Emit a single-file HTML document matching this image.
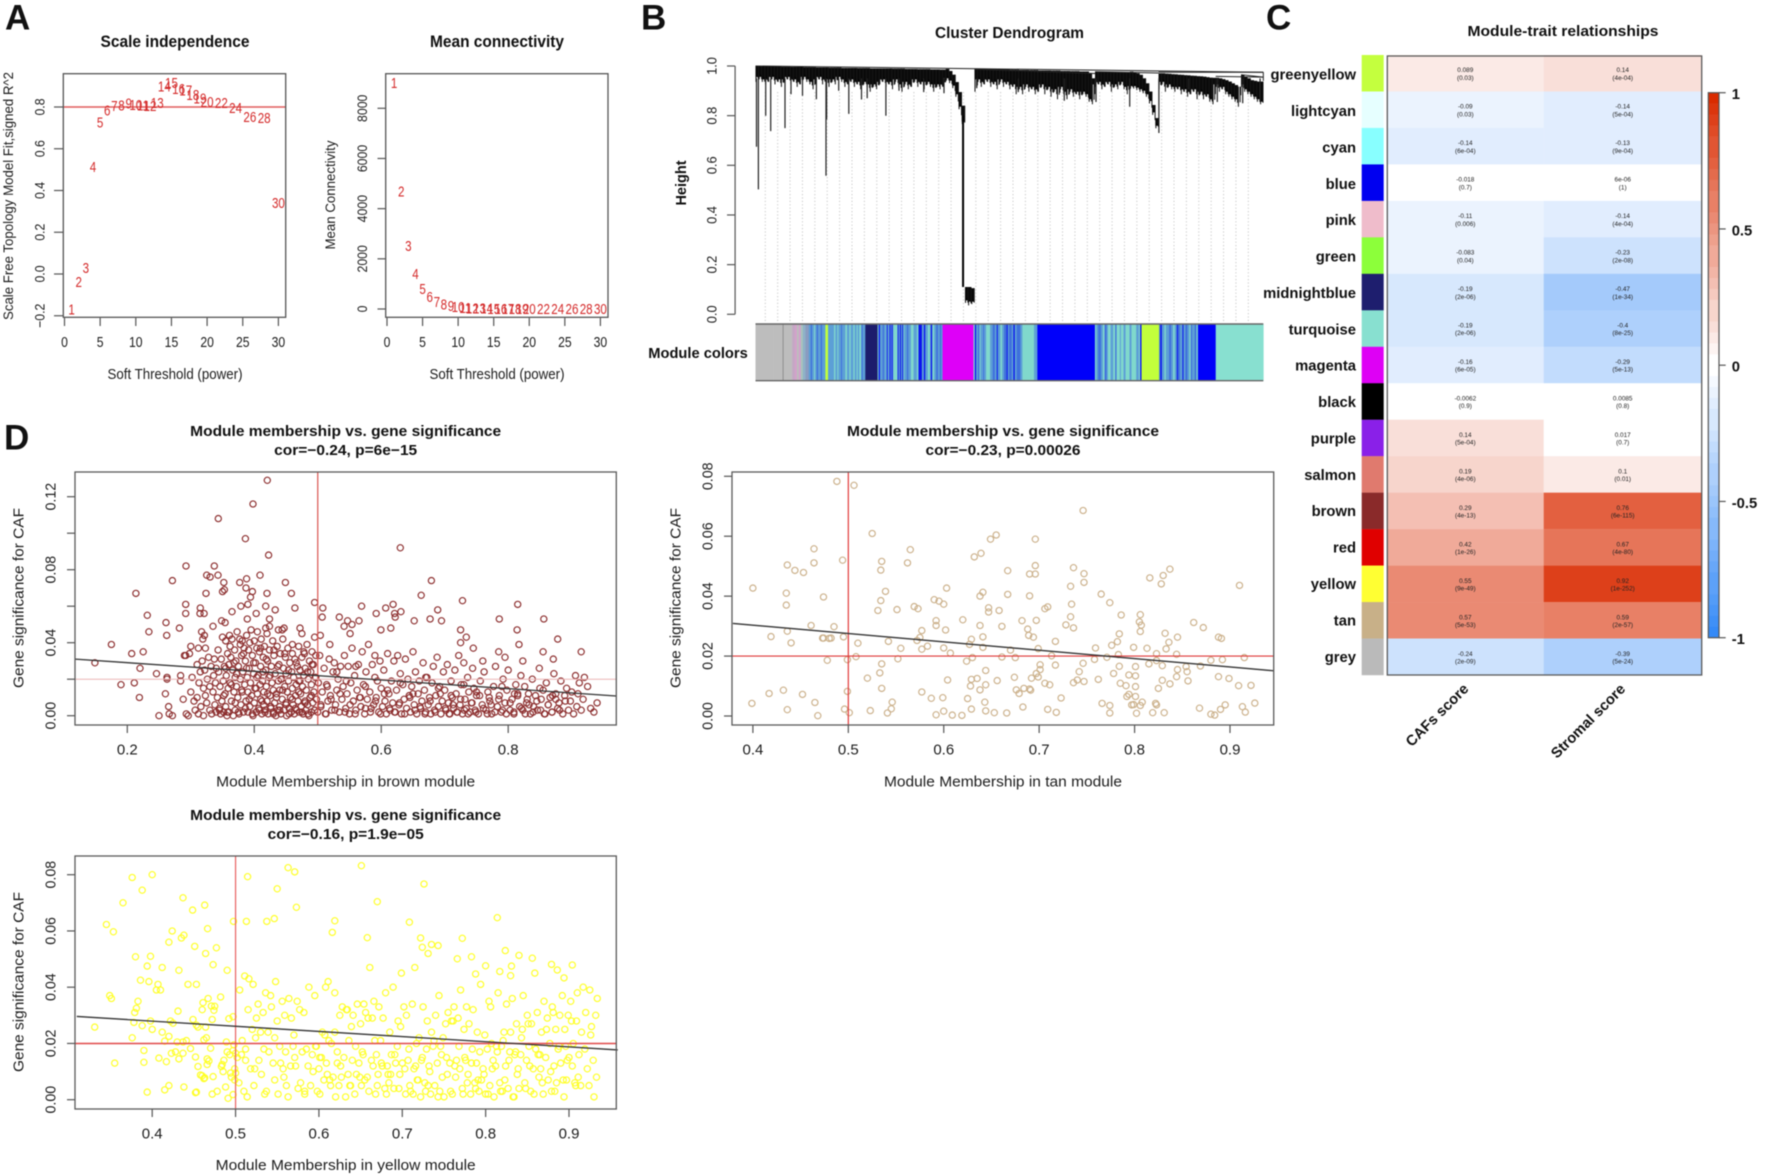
<!DOCTYPE html>
<html lang="en">
<head>
<meta charset="utf-8">
<title>WGCNA module analysis figure</title>
<style>
html,body{margin:0;padding:0;background:#fff;width:1772px;height:1176px;overflow:hidden}
svg{display:block;filter:blur(.4px)}
text{font-family:"Liberation Sans",Arial,sans-serif;fill:#1c1c1c}
.b{font-weight:bold;fill:#111}
</style>
</head>
<body>
<svg id="fig" xmlns="http://www.w3.org/2000/svg" width="1772" height="1176" viewBox="0 0 1772 1176">
<rect x="0" y="0" width="1772" height="1176" fill="#fff"/>

<text class="b" x="5" y="29.5" font-size="35">A</text>
<text class="b" x="641" y="29.5" font-size="35">B</text>
<text class="b" x="1266" y="29.5" font-size="35">C</text>
<text class="b" x="4" y="449.5" font-size="35">D</text>

<text class="b" x="175" y="47" font-size="16.5" text-anchor="middle" textLength="149" lengthAdjust="spacingAndGlyphs">Scale independence</text>
<text x="175" y="379" font-size="14.5" text-anchor="middle" textLength="135" lengthAdjust="spacingAndGlyphs">Soft Threshold (power)</text>
<text transform="translate(8,196) rotate(-90)" y="5" font-size="14" text-anchor="middle" textLength="248" lengthAdjust="spacingAndGlyphs">Scale Free Topology Model Fit,signed R^2</text>

<text class="b" x="497" y="47" font-size="16.5" text-anchor="middle" textLength="134" lengthAdjust="spacingAndGlyphs">Mean connectivity</text>
<text x="497" y="379" font-size="14.5" text-anchor="middle" textLength="135" lengthAdjust="spacingAndGlyphs">Soft Threshold (power)</text>
<text transform="translate(330,195) rotate(-90)" y="5" font-size="14" text-anchor="middle" textLength="109" lengthAdjust="spacingAndGlyphs">Mean Connectivity</text>

<text class="b" x="1009.5" y="38" font-size="15.5" text-anchor="middle" textLength="149" lengthAdjust="spacingAndGlyphs">Cluster Dendrogram</text>
<text class="b" transform="translate(681,183) rotate(-90)" y="5" font-size="14.5" text-anchor="middle">Height</text>
<text class="b" x="698" y="358" font-size="15" text-anchor="middle" textLength="99.5" lengthAdjust="spacingAndGlyphs">Module colors</text>

<text class="b" x="1563" y="36" font-size="14.5" text-anchor="middle" textLength="191" lengthAdjust="spacingAndGlyphs">Module-trait relationships</text>
<text class="b" transform="translate(1437,715) rotate(-45)" y="5" font-size="14.7" text-anchor="middle">CAFs score</text>
<text class="b" transform="translate(1588,721) rotate(-45)" y="5" font-size="14.7" text-anchor="middle">Stromal score</text>

<text class="b" x="345.7" y="436" font-size="15" text-anchor="middle" textLength="311" lengthAdjust="spacingAndGlyphs">Module membership vs. gene significance</text>
<text class="b" x="345.7" y="455" font-size="15" text-anchor="middle" textLength="143" lengthAdjust="spacingAndGlyphs">cor=−0.24, p=6e−15</text>
<text x="345.7" y="786.5" font-size="15" text-anchor="middle" textLength="259" lengthAdjust="spacingAndGlyphs">Module Membership in brown module</text>
<text transform="translate(18.4,598) rotate(-90)" y="5" font-size="15" text-anchor="middle" textLength="180" lengthAdjust="spacingAndGlyphs">Gene significance for CAF</text>

<text class="b" x="1003" y="436" font-size="15" text-anchor="middle" textLength="312" lengthAdjust="spacingAndGlyphs">Module membership vs. gene significance</text>
<text class="b" x="1003" y="455" font-size="15" text-anchor="middle" textLength="155" lengthAdjust="spacingAndGlyphs">cor=−0.23, p=0.00026</text>
<text x="1003" y="786.5" font-size="15" text-anchor="middle" textLength="238" lengthAdjust="spacingAndGlyphs">Module Membership in tan module</text>
<text transform="translate(675.3,598) rotate(-90)" y="5" font-size="15" text-anchor="middle" textLength="180" lengthAdjust="spacingAndGlyphs">Gene significance for CAF</text>

<text class="b" x="345.7" y="820" font-size="15" text-anchor="middle" textLength="311" lengthAdjust="spacingAndGlyphs">Module membership vs. gene significance</text>
<text class="b" x="345.7" y="839" font-size="15" text-anchor="middle" textLength="156" lengthAdjust="spacingAndGlyphs">cor=−0.16, p=1.9e−05</text>
<text x="345.7" y="1170" font-size="15" text-anchor="middle" textLength="260" lengthAdjust="spacingAndGlyphs">Module Membership in yellow module</text>
<text transform="translate(18.4,982) rotate(-90)" y="5" font-size="15" text-anchor="middle" textLength="180" lengthAdjust="spacingAndGlyphs">Gene significance for CAF</text>
</svg>

<script>
/* ---------- Panel A data ---------- */
const powers=[1,2,3,4,5,6,7,8,9,10,11,12,13,14,15,16,17,18,19,20,22,24,26,28,30];
const scaleFit=[-.17,-.037,.03,.514,.727,.784,.805,.808,.818,.811,.808,.805,.821,.90,.917,.887,.879,.858,.842,.824,.821,.797,.754,.748,.342];
const meanK=[9023,4691,2525,1395,811,492,292,186,133,80,53,35,28,22,18,15,12,10,8,7,5,4,3,2,2];
const powerTicks=[0,5,10,15,20,25,30];
const scaleTicks=[-.2,0,.2,.4,.6,.8];
const scaleTickLabels=['−0.2','0.0','0.2','0.4','0.6','0.8'];
const scaleCutoff=[.8];
const kTicks=[0,2000,4000,6000,8000];

/* ---------- Panel B data ---------- */
const heightTicks=[0,.2,.4,.6,.8,1];
const heightTickLabels=['0.0','0.2','0.4','0.6','0.8','1.0'];
const dendroTop=[1,1,.999,.999,.999,.998,.998,.998,.997,.997,.997,.996,.996,.996,.996,.995,.995,.995,.995,.994,.994,.994,.994,.993,.993,.993,.993,.992,.992,.992,.992,.992,.991,.991,.991,.991,.99,.99,
.99,.99,.99,.99,.99,.989,.989,.989,.989,.988,.988,.988,.988,.987,.987,.987,.987,.986,.986,.986,.985,.985,
.988,.98,.965,.935,.895,.84,.11,.11,.105,
.988,.988,.988,.987,.987,.987,.987,.986,.986,.986,.986,.985,.985,.985,
.984,.984,.984,.983,.983,.983,.982,.982,.982,.982,.981,.981,.981,.98,.98,.98,.979,.979,.979,.978,.978,.978,.97,.95,
.977,.977,.977,.977,.976,.976,.976,.976,.975,.975,.975,
.977,.974,.97,.964,.95,.93,.897,.843,.79,
.97,.97,.969,.968,.967,.966,.965,.964,.963,.962,.961,.96,.959,.958,.957,.955,.953,.952,
.952,.95,.947,.943,.937,.93,.923,.917,
.964,.957,.95,.943,.94,.937,.937];
const dendroTip=[.95,.96,.95,.94,.95,.96,.94,.95,.93,.95,.96,.94,.95,.93,.94,.96,.95,.94,.92,.95,.96,.94,.95,.93,.95,.94,.96,.95,.93,.94,.95,.93,.94,.92,.94,.93,.91,.93,
.92,.94,.95,.93,.94,.92,.95,.93,.91,.94,.92,.93,.95,.93,.94,.92,.94,.93,.91,.93,.92,.93,
.955,.945,.925,.89,.84,.78,.06,.05,.055,
.91,.95,.93,.94,.95,.93,.94,.92,.95,.93,.94,.92,.93,.90,
.92,.90,.93,.91,.92,.90,.91,.93,.90,.92,.89,.91,.88,.92,.90,.88,.91,.89,.90,.88,.90,.89,.87,.86,
.93,.94,.92,.93,.94,.91,.93,.92,.94,.92,.90,
.923,.923,.917,.91,.904,.89,.863,.817,.763,
.92,.94,.91,.93,.92,.91,.92,.90,.91,.89,.90,.91,.88,.90,.88,.89,.87,.86,
.93,.91,.92,.90,.89,.88,.87,.85,
.93,.91,.90,.89,.88,.87,.86];
const spikeLeaf=[.3,.9,.9,3.2,4.8,9.3,11.2,14.8,19.2,22.4,22.2,26.2,29.4,33.4,35.2,41.1,45.2,53,59.4,69.7,82.8,97.3,107.3,117.9,127.1,136.5,145.5,153.5,159];
const spikeHeight=[.675,.503,.78,.80,.738,.75,.886,.88,.866,.785,.558,.90,.807,.865,.87,.80,.90,.895,.89,.91,.895,.86,.855,.836,.73,.905,.855,.85,.855];
const descentLeaf=[65.4];
const descentFrom=[.80];
const descentTo=[.11];
const mergeFromLeaf=[0,127,145,153,69,107];
const mergeToLeaf=[160,160,160,160,107,127];
const mergeFromH=[1,.975,.958,.965,.987,.977];
const mergeToH=[.975,.975,.955,.955,.97,.972];
const barRunKeys=[
'g','g','d','g','p','q','g','q','r','o','k',
's','m','s','t','s','m','s','m','s',
'y',
's','t','s','t','s','m','s','t','s','t','s','t','s','t','s','t','m','s',
'N',
't','b','s','m','s','t','b','s','b','s','b','s','t','b','s','b','s','b','t','s','m','s','t','s','t','s',
'b','s','b','s','t','s','b','t','s','m','s','m','s',
'M',
't','b','s','m','t','s','m','s','t','s','m','s','b','s','t','s','m','b','s','m','s','b','s','m',
'm','s','t','s',
'B',
't','s','m','s','t','m','s','t','s','t','m','t','s','t','s','t','s','t','s','t','b',
'y',
'm','b','s','t','s','m','s','t','s','b','m','s','b','s','m','s','t','m','s','m','t','s',
'B',
'T'];
const barRunLeaves=[
53,29,2,26,8,6,6,6,6,8,10,
6,4,6,3,5,4,8,4,10,
8,
18,4,6,3,8,3,10,5,7,4,8,4,6,3,5,6,4,8,
37,
3,4,8,4,6,2,3,6,3,3,3,3,12,3,4,3,4,3,3,8,4,8,8,10,4,1,
10,6,4,8,6,3,4,6,6,5,6,4,4,
93,
4,4,6,4,3,8,3,6,12,8,6,6,3,8,5,6,8,3,4,8,5,4,6,5,
6,6,35,10,
173,
4,6,8,6,5,6,4,8,8,6,4,10,3,8,6,12,6,14,8,4,4,
53,
4,4,8,4,10,6,6,5,6,3,6,8,3,6,6,6,4,4,8,5,3,2,
53,
143];
const barKeyColors={g:'#bdbdbd',d:'#7a7a7a',p:'#c4a8c4',q:'#d4a0cc',r:'#a8c4bc',o:'#8fb2c8',k:'#8a9cc0',s:'#5c9fd6',m:'#3f70dc',t:'#80d8cc',b:'#0a10f0',y:'#c2ff3c',N:'#1c1c6c',M:'#de00f8',B:'#0000fa',T:'#88e0d0'};

/* ---------- Panel C data ---------- */
const moduleNames=['greenyellow','lightcyan','cyan','blue','pink','green','midnightblue','turquoise','magenta','black','purple','salmon','brown','red','yellow','tan','grey'];
const moduleSwatches=['#c4ff3e','#e6ffff','#88ffff','#0000f0','#efbccb','#8cff3a','#1e1e6e','#88e0d0','#de00f5','#000000','#8a20e8','#e07a6e','#8a2a2a','#e00000','#ffff33','#c8b088','#bababa'];
const cafCor=[.089,-.09,-.14,-.018,-.11,-.083,-.19,-.19,-.16,-.0062,.14,.19,.29,.42,.55,.57,-.24];
const cafCorLabels=['0.089','-0.09','-0.14','-0.018','-0.11','-0.083','-0.19','-0.19','-0.16','-0.0062','0.14','0.19','0.29','0.42','0.55','0.57','-0.24'];
const cafP=['(0.03)','(0.03)','(6e-04)','(0.7)','(0.006)','(0.04)','(2e-06)','(2e-06)','(6e-05)','(0.9)','(5e-04)','(4e-06)','(4e-13)','(1e-26)','(9e-49)','(5e-53)','(2e-09)'];
const stromalCor=[.14,-.14,-.13,.000006,-.14,-.23,-.47,-.4,-.29,.0085,.017,.1,.76,.67,.92,.59,-.39];
const stromalCorLabels=['0.14','-0.14','-0.13','6e-06','-0.14','-0.23','-0.47','-0.4','-0.29','0.0085','0.017','0.1','0.76','0.67','0.92','0.59','-0.39'];
const stromalP=['(4e-04)','(5e-04)','(9e-04)','(1)','(4e-04)','(2e-08)','(1e-34)','(8e-25)','(5e-13)','(0.8)','(0.7)','(0.01)','(6e-115)','(4e-80)','(1e-252)','(2e-57)','(5e-24)'];
const colorbarTicks=[1,.5,0,-.5,-1];
const colorbarTickLabels=['1','0.5','0','-0.5','-1'];

/* ---------- Panel D: brown ---------- */
const brownXTicks=[.2,.4,.6,.8];
const brownYTicks=[0,.02,.04,.06,.08,.1,.12];
const brownXLim=[.118,.97];
const brownTrend=[.031,.0108];
const brownX=[.149,.175,.19,.207,.211,.2135,.22,.219,.225,.2315,.234,.246,.25,.261,.262,.2625,.2625,.26,.265,.266,.271,.271,.282,.284,.284,.292,.292,.2925,.288,.292,.298,.293,.296,
.4206,.398,.3434,.386,.4225,.63,.337,.325,.3305,.3428,.352,.377,.388,.409,.449,.679,.324,.35,.353,.387,.397,.394,.42,.4585,.495,.508,.507,.464,.433,.418,.403,.39,.379,.365,.315,.3145,.321,.569,.607,.6187,.592,.621,.631,.622,.534,.547,.565,.554,.5415,.5995,.615,.551,.652,.663,.689,.677,.695,.728,.725,.734,.725,.745,.815,.786,.856,.814,.817,.878,.915,.855,.785,.795,.871,.823,.76,.3486,.354,.389,.335,.424,.418,.424,.472,.444,.447,.438,.475,.504,.495,.519,.317,.3215,.319,.3,.312,.323,.29,
.30,.302,.305,.307,.31,.31,.312,.313,.315,.316,.318,.32,.32,.322,.323,.325,.326,.328,.33,.33,.332,.333,.335,.336,.337,.338,.339,.34,.34,.342,
.343,.344,.345,.346,.347,.348,.349,.35,.351,.352,.353,.354,.355,.355,.356,.357,.358,.359,.36,.36,.361,.362,.363,.364,.365,.366,.367,.368,.369,.37,.37,.371,.372,.373,.374,.375,.376,.377,.378,.379,.38,.38,.381,.382,.383,.384,.385,
.386,.387,.388,.389,.39,.39,.391,.392,.393,.394,.395,.396,.397,.398,.399,.40,.40,.401,.402,.403,.404,.405,.405,.406,.407,.408,.409,.41,.41,.411,.412,.413,.414,.415,.415,.416,.417,.418,.419,.42,.42,.421,.422,.423,.424,.425,.426,.427,.428,.429,.43,.43,.431,.432,.433,.434,.435,.436,.437,.438,
.439,.44,.44,.441,.442,.443,.444,.445,.446,.447,.448,.449,.45,.45,.451,.452,.453,.454,.455,.456,.457,.458,.459,.46,.46,.461,.462,.463,.464,.465,.466,.467,.468,.469,.47,.47,.471,.472,.473,.474,.475,.476,.477,.478,.479,.48,.48,.481,.482,.483,.484,.485,.486,.487,.488,.489,.49,.49,.491,.492,.493,.494,.495,.496,.497,.498,
.50,.501,.503,.505,.507,.51,.512,.514,.516,.518,.52,.522,.524,.526,.528,.53,.532,.534,.536,.538,.54,.542,.544,.546,.548,.55,.552,.554,.556,.558,.56,.562,.564,.566,.568,.57,.572,.574,.576,.578,.58,.582,.584,.586,.588,.59,.592,.594,.596,.598,
.60,.602,.604,.606,.608,.61,.612,.614,.616,.618,.62,.622,.624,.626,.628,.63,.632,.634,.636,.638,.64,.642,.644,.646,.648,.65,.652,.654,.656,.658,.66,.662,.664,.666,.668,.67,.672,.674,.676,.678,.68,.682,.684,.686,.688,.69,.692,.694,.696,.698,
.70,.702,.704,.706,.708,.71,.712,.714,.716,.718,.72,.722,.724,.726,.728,.73,.732,.734,.736,.738,.74,.742,.744,.746,.748,.75,.753,.756,.759,.762,.765,.768,.771,.774,.777,.78,.783,.786,.789,.792,.795,.798,.80,.803,.806,.809,.812,.815,.818,.82,
.823,.826,.829,.832,.835,.838,.84,.843,.846,.849,.852,.855,.858,.86,.863,.866,.869,.872,.875,.878,.88,.883,.886,.889,.892,.895,.898,.90,.903,.906,.908,.91,.912,.915,.918,.92,.925,.93,.935,.94,
.345,.352,.358,.364,.37,.375,.381,.386,.392,.397,.403,.408,.412,.417,.421,.426,.43,.435,.44,.445,.45,.455,.46,.465,.47,.475,.48,.485,.49,.495,.505,.513,.521,.527,.535,.543,.551,.559,.567,.575,.583,.591,.599,.605,.613,.621,.629,.637,.645,.653,.661,.669,.677,.685,.693,.701,.707,.713,.719,.725,.731,.737,.743,.749,.755,.761,.767,.773,.779,.785,.791,.797,.803,.809,.815,.821,.827,.833,.839,.845,.851,.857,.863,.869,.875,.881,
.355,.362,.368,.372,.378,.383,.388,.393,.399,.404,.41,.414,.419,.425,.431,.437,.442,.448,.454,.46,.466,.472,.478,.484,.491,.497,.515,.53,.545,.56,.575,.59,.61,.63,.65,.67,.69,.71,.73,.75,.77,.79,.81,.83,.85,.87,.89];
const brownY=[.029,.039,.017,.034,.018,.067,.026,.010,.035,.055,.046,.023,0,.051,.044,.021,.020,.012,.005,.001,0,.074,.048,.022,.019,.061,.056,.082,.009,.033,.034,.001,0,
.129,.116,.108,.097,.088,.092,.082,.077,.076,.077,.073,.073,.075,.077,.073,.074,.067,.068,.069,.070,.068,.065,.067,.067,.062,.059,.054,.059,.058,.060,.056,.061,.060,.057,.059,.056,.056,.060,.059,.061,.056,.056,.057,.054,.054,.052,.052,.050,.049,.047,.048,.045,.052,.066,.058,.053,.052,.063,.047,.043,.040,.037,.061,.053,.053,.047,.039,.042,.035,.035,.035,.032,.031,.030,.030,.052,.051,.053,.049,.053,.048,.049,.048,.047,.048,.047,.045,.044,.043,.039,.046,.044,.042,.038,.037,.037,.033,
.013,.021,.008,.003,.028,.010,.001,.018,.024,.005,.030,.015,.0,.025,.011,.007,.020,.032,.003,.016,.027,.001,.013,.022,.031,.006,.018,.002,.026,.010,
.036,.024,.003,.016,.001,.031,.008,.043,.019,.002,.027,.012,.041,.005,.022,.0,.034,.015,.028,.002,.044,.018,.032,.008,.042,.025,.0,.013,.036,.021,.003,.030,.016,.046,.010,.027,.001,.042,.020,.006,.033,.014,.041,.024,.002,.037,.017,
.030,.008,.044,.021,.002,.013,.036,.026,.005,.018,.047,.011,.033,.0,.023,.041,.007,.015,.029,.002,.037,.012,.046,.022,.004,.035,.017,.009,.027,.042,.001,.019,.032,.006,.013,.038,.003,.025,.016,.045,.008,.030,.001,.021,.036,.011,.004,.027,.018,.041,.002,.014,.033,.007,.023,.0,.012,.038,.003,.019,
.028,.005,.014,.034,.001,.020,.009,.042,.026,.003,.016,.032,.007,.023,.0,.013,.037,.019,.004,.029,.010,.002,.024,.034,.015,.006,.021,.001,.031,.011,.017,.003,.027,.008,.038,.019,.002,.025,.012,.005,.032,.016,.001,.022,.034,.008,.026,.003,.014,.039,.006,.020,.0,.030,.010,.024,.002,.017,.035,.007,.028,.013,.003,.021,.033,.009,
.002,.018,.033,.005,.013,.026,.001,.017,.008,.031,.011,.003,.024,.029,.006,.014,.020,.002,.027,.009,.016,.033,.004,.012,.027,.001,.018,.037,.008,.022,.003,.014,.028,.010,.005,.035,.017,.001,.024,.009,.039,.013,.004,.028,.006,.033,.010,.019,.002,.030,
.015,.005,.025,.008,.001,.034,.012,.003,.019,.007,.030,.002,.014,.033,.006,.023,.001,.017,.009,.031,.004,.020,.011,.002,.016,.035,.006,.024,.001,.012,.019,.004,.008,.029,.014,.002,.021,.006,.010,.001,.018,.027,.003,.011,.032,.005,.016,.001,.008,.024,
.014,.003,.028,.007,.001,.019,.010,.004,.025,.012,.002,.033,.006,.017,.001,.029,.009,.004,.021,.013,.002,.007,.026,.015,.003,.011,.001,.019,.006,.024,.003,.013,.008,.001,.016,.027,.005,.011,.002,.020,.007,.014,.025,.003,.009,.001,.017,.012,.005,.022,
.003,.016,.007,.012,.001,.020,.005,.011,.003,.026,.009,.014,.001,.018,.006,.010,.002,.023,.012,.004,.007,.019,.001,.011,.015,.003,.008,.013,.001,.022,.005,.012,.018,.003,.009,.021,.016,.004,.002,.007,
.004,.011,.002,.017,.007,.002,.013,.004,.009,.001,.015,.003,.008,.002,.012,.005,.001,.010,.003,.014,.006,.001,.009,.004,.013,.002,.007,.001,.011,.003,.006,.001,.009,.003,.012,.002,.006,.001,.010,.004,.002,.008,.001,.012,.004,.002,.007,.001,.010,.003,.005,.001,.008,.002,.012,.004,.001,.006,.002,.009,.003,.001,.007,.002,.011,.004,.001,.006,.002,.009,.003,.001,.007,.002,.011,.004,.001,.006,.002,.008,.003,.001,.006,.002,.009,.003,
.026,.038,.029,.023,.039,.034,.026,.040,.029,.021,.037,.024,.031,.022,.036,.027,.020,.034,.025,.039,.029,.019,.035,.024,.028,.021,.016,.024,.019,.027,.016,.021,.014,.018,.012,.021,.015,.011,.017,.013,.010,.016,.012,.009,.015,.011,.008];

/* ---------- Panel D: tan ---------- */
const tanXTicks=[.4,.5,.6,.7,.8,.9];
const tanYTicks=[0,.02,.04,.06,.08];
const tanXLim=[.379,.9455];
const tanTrend=[.0309,.0151];
const tanCut=[.5,.02];
const tanX=[.4,.399,.417,.419,.432,.436,.436,.436,.435,.435,.44,.444,.453,.452,.461,.464,.464,.465,.468,.474,.473,.474,.478,.48,.482,.485,.488,.494,.495,.496,.499,.499,.501,.506,.508,.51,.52,.523,.525,.531,.534,.535,.535,.533,.535,.539,.534,.542,.541,.545,.546,.552,.551,.555,.562,.565,.569,.573,.572,.575,.577,.577,.583,.577,.587,.59,.595,.592,.592,.6,.603,.602,.6,.607,.604,.599,.6,.592,.609,.619,.62,.624,.625,.629,.627,.63,.629,.628,.629,.632,.635,.638,.641,.639,.638,.641,.641,.644,.644,.638,.643,.644,.653,.649,.655,.647,.647,.658,.661,.661,.656,.666,.667,.667,.67,.674,.675,.682,.676,.679,.684,.683,.69,.691,.69,.696,.696,.696,.69,.688,.689,.694,.697,.701,.699,.701,.699,.692,.706,.709,.697,.717,.713,.717,.706,.711,.709,.718,.723,.728,.733,.733,.736,.734,.736,.736,.74,.742,.746,.746,.747,.747,.747,.759,.758,.765,.774,.771,.762,.766,.774,.774,.778,.776,.782,.784,.786,.783,.784,.785,.791,.794,.801,.801,.799,.805,.806,.807,.806,.815,.813,.816,.823,.823,.829,.828,.83,.837,.832,.836,.833,.829,.825,.837,.792,.794,.797,.799,.801,.801,.806,.808,.802,.822,.823,.819,.831,.844,.845,.844,.845,.856,.855,.854,.862,.872,.869,.868,.88,.88,.884,.89,.895,.888,.891,.892,.888,.899,.909,.913,.916,.922,.926,.91,.915];
const tanY=[.0427,.0042,.0075,.0265,.0086,.0021,.0283,.0504,.041,.037,.0244,.0486,.0479,.0072,.0302,.0558,.0511,.0045,.0001,.0397,.026,.026,.0186,.0259,.026,.0298,.0783,.052,.0264,.0023,.0082,.0188,.0011,.077,.0198,.0243,.0126,.0018,.0609,.0352,.0487,.0516,.0174,.0144,.0092,.0416,.0385,.0249,.001,.0024,.0046,.0191,.0355,.0226,.0511,.0555,.0365,.0358,.0252,.0262,.0285,.0223,.0233,.008,.0059,.0388,.0383,.0318,.0302,.0373,.0427,.0287,.0227,.021,.012,.0061,.0016,.0004,.0003,.0002,.0321,.0183,.0058,.0256,.0239,.0195,.0122,.01,.0023,.0531,.0125,.04,.0413,.0543,.0302,.0264,.0229,.0152,.0104,.0087,.0046,.0017,.0011,.059,.0604,.0361,.0347,.0352,.0299,.0197,.0118,.001,.0485,.0406,.022,.0129,.0195,.0318,.0087,.0075,.0092,.003,.009,.0086,.0474,.0474,.059,.0502,.0401,.029,.0269,.0263,.0142,.0155,.0225,.0171,.013,.0126,.0358,.0364,.0319,.0249,.0201,.017,.0109,.0104,.0022,.0012,.006,.0304,.0433,.0331,.0495,.0373,.0294,.0111,.012,.0148,.0686,.0176,.0115,.0475,.0446,.0227,.0189,.0407,.0378,.0196,.0122,.0042,.0035,.001,.0142,.0236,.0248,.0274,.0337,.0205,.0166,.0109,.0101,.0137,.0165,.0134,.0229,.0314,.0338,.0303,.0282,.0174,.0226,.0461,.0208,.0185,.0168,.0441,.0469,.049,.0276,.0246,.0224,.0119,.0092,.0107,.0065,.0072,.0037,.0038,.0065,.0098,.0035,.0046,.0009,.0042,.0037,.0011,.0011,.0206,.0263,.0131,.0155,.0117,.0148,.0165,.0312,.0295,.0167,.0026,.0186,.0006,.0003,.0022,.0037,.0263,.0259,.0188,.0131,.0125,.0101,.0031,.0013,.0102,.0043,.0436,.0195];

/* ---------- Panel D: yellow ---------- */
const yellowXTicks=[.4,.5,.6,.7,.8,.9];
const yellowYTicks=[0,.02,.04,.06,.08];
const yellowXLim=[.3095,.9585];
const yellowTrend=[.0296,.0177];
const yellowCut=[.5,.02];
const yellowX=[.331,.345,.3535,.365,.376,.4,.388,.437,.4485,.463,.4665,.4975,.513,.5145,.5375,.5465,.55,.563,.571,.573,.651,.67,.726,.7085,.814,.619,.616,.658,.722,.772,.735,.743,.724,.731,.766,.783,.8236,.84,.856,.879,.904,.886,.894,.831,.83,.817,.8,.788,
.355,.349,.351,.38,.381,.379,.378,.376,.383,.388,.39,.39,.394,.396,.386,.398,.405,.41,.407,.412,.4,.398,.394,.408,.412,.415,.417,.42,.424,.42,.423,.422,.425,.42,.415,.431,.432,.435,.438,.43,.432,.428,.437,.441,.438,.437,.446,.443,.449,.453,.455,.451,.453,.452,.455,.452,.453,.458,.46,.462,.463,.461,.46,.462,.465,.464,.464,.467,.466,.466,.468,.472,.471,.473,.47,.474,.475,.477,.473,.472,.478,.484,.485,.483,.486,.482,.488,.489,.49,.492,.49,.491,.493,.494,.495,.497,.498,.497,.499,.497,.5,.499,.5,
.502,.504,.505,.507,.508,.51,.511,.512,.514,.515,.516,.518,.52,.521,.522,.524,.525,.527,.528,.53,.531,.533,.534,.536,.537,.539,.54,.542,.543,.545,.547,.548,.55,.551,.553,.554,.556,.557,.559,.56,
.561,.563,.564,.566,.567,.569,.57,.572,.574,.575,.577,.578,.58,.582,.583,.585,.587,.588,.59,.592,.593,.595,.597,.598,.60,.601,.603,.604,.606,.608,.609,.611,.612,.614,.615,.617,.619,.62,.622,.624,
.625,.627,.628,.63,.632,.633,.635,.636,.638,.64,.641,.643,.645,.646,.648,.65,.651,.653,.655,.656,.658,.66,.661,.663,.664,.666,.668,.669,.671,.672,.674,.676,.677,.679,.68,.682,.684,.685,.687,.689,
.69,.692,.694,.695,.697,.699,.70,.702,.704,.705,.707,.709,.71,.712,.714,.715,.717,.719,.72,.722,.724,.725,.727,.729,.73,.732,.734,.735,.737,.739,.74,.742,.744,.745,.747,.749,.75,.752,.754,.755,
.757,.759,.76,.762,.764,.765,.767,.769,.77,.772,.774,.775,.777,.779,.78,.782,.784,.785,.787,.789,.79,.792,.794,.795,.797,.799,.80,.802,.804,.805,.807,.809,.81,.812,.814,.815,.817,.819,.82,.822,
.824,.825,.827,.829,.83,.832,.834,.835,.837,.839,.84,.842,.844,.845,.847,.849,.85,.852,.854,.855,.857,.859,.86,.862,.864,.865,.867,.869,.87,.872,.874,.875,.877,.879,.88,.882,.884,.885,.887,.889,
.89,.892,.894,.895,.897,.899,.90,.902,.904,.905,.907,.909,.91,.912,.914,.915,.917,.919,.92,.922,.924,.925,.927,.929,.93,.932,.933,.934,
.601,.607,.613,.619,.626,.634,.639,.644,.649,.654,.659,.665,.67,.675,.681,.686,.691,.696,.703,.708,.713,.718,.723,.728,.733,.738,.743,.748,.753,.758,.763,.768,.773,.778,.783,.788,.793,.798,.803,.808,.813,.818,.823,.828,.833,.838,.843,.848,.853,.858,.863,.868,.873,.878,.883,.888,.893,.898,.903,.908,
.512,.523,.535,.547,.558,.571,.583,.596,.61,.622,.637,.652,.667,.683,.698,.716,.731,.746,.761,.776,.791,.806,.821,.836,.851,.866,.881,.896,.911,.926];
const yellowY=[.0258,.0623,.0597,.07,.079,.08,.0745,.0718,.0674,.0692,.0608,.0634,.0634,.0793,.0634,.0644,.075,.0825,.081,.0684,.0832,.0704,.0767,.0631,.0647,.0636,.0595,.0576,.0575,.0574,.0552,.0548,.0542,.052,.0501,.0508,.053,.0513,.0503,.0481,.0479,.0461,.0433,.0475,.0441,.0456,.0476,.0447,
.013,.037,.036,.0508,.0325,.031,.0275,.022,.035,.0263,.0175,.0133,.0475,.042,.0425,.051,.039,.039,.041,.047,.025,.028,.0027,.0148,.024,.0208,.0135,.056,.06,.0225,.0165,.028,.0272,.005,.0035,.0315,.046,.0575,.0585,.0205,.0145,.017,.0205,.021,.0045,.0165,.0182,.041,.0285,.0265,.0258,.0545,.041,.0152,.0118,.0025,.0027,.0088,.0085,.0075,.0078,.0345,.032,.0213,.022,.0258,.052,.036,.0145,.0125,.0138,.0285,.0333,.048,.0183,.0318,.0332,.054,.0082,.002,.003,.0125,.01,.0118,.014,.0365,.0045,.0205,.046,.0288,.017,.0005,.016,.0095,.008,.0295,.0195,.0175,.011,.0018,.0165,.007,.0095,
.015,.006,.039,.016,.021,.003,.044,.014,.001,.032,.043,.011,.025,.041,.005,.022,.029,.034,.014,.024,.009,.031,.018,.038,.003,.024,.017,.037,.033,.013,.007,.042,.028,.002,.019,.013,.035,.011,.03,.017,
.005,.001,.036,.012,.029,.019,.023,.012,.035,.004,.032,.006,.017,.031,.002,.018,.012,.04,.005,.016,.01,.037,.019,.003,.011,.002,.015,.024,.007,.04,.013,.042,.021,.005,.02,.008,.024,.001,.017,.005,
.03,.008,.033,.015,.001,.032,.009,.021,.005,.014,.03,.002,.009,.034,.013,.027,.005,.016,.007,.031,.008,.003,.047,.014,.029,.035,.002,.016,.009,.033,.021,.012,.029,.004,.038,.012,.006,.024,.016,.04,
.004,.013,.019,.028,.009,.045,.013,.033,.002,.03,.014,.005,.003,.034,.011,.047,.02,.007,.022,.001,.015,.033,.006,.018,.028,.012,.002,.024,.019,.005,.03,.013,.037,.003,.016,.022,.001,.027,.009,.031,
.013,.028,.002,.033,.008,.014,.029,.011,.039,.004,.025,.015,.033,.009,.027,.002,.018,.032,.006,.013,.024,.003,.041,.007,.011,.023,.002,.018,.035,.005,.02,.014,.001,.012,.017,.038,.006,.019,.003,.024,
.012,.034,.004,.017,.024,.036,.001,.016,.027,.011,.004,.016,.025,.037,.006,.014,.03,.019,.003,.027,.011,.045,.018,.031,.008,.016,.024,.002,.035,.015,.029,.007,.02,.003,.033,.012,.025,.006,.018,.03,
.013,.037,.001,.025,.007,.03,.015,.035,.012,.02,.006,.028,.038,.016,.005,.024,.04,.018,.031,.011,.005,.039,.026,.014,.001,.03,.008,.036,.015,.023,.007,.038,.012,.032,.026,.019,.008,.034,.029,.012,
.005,.013,.002,.009,.016,.004,.011,.018,.002,.007,.014,.003,.010,.021,.001,.008,.015,.003,.012,.019,.002,.006,.013,.004,.017,.009,.002,.011,.019,.003,.007,.014,.001,.009,.022,.004,.012,.002,.016,.006,.025,.010,.003,.019,.007,.014,.028,.005,.018,.011,.002,.022,.008,.015,.003,.019,.009,.013,.005,.017,
.021,.009,.026,.012,.005,.019,.028,.014,.007,.033,.021,.017,.027,.011,.031,.019,.008,.023,.028,.012,.032,.017,.025,.034,.019,.028,.022,.014,.026,.019];

/* ---------- Helpers ---------- */
const NS='http://www.w3.org/2000/svg';
const fig=document.getElementById('fig');
function scale(d0,d1,r0,r1){return v=>r0+(v-d0)*(r1-r0)/(d1-d0);}
function mk(tag,name,attrs){
  const el=document.createElementNS(NS,tag);
  
  
  for(const k in attrs)el.setAttribute(k,attrs[k]);
  fig.appendChild(el);
  return el;
}
function line(name,x1,y1,x2,y2,col,w){return mk('line',name,{x1,y1,x2,y2,stroke:col,'stroke-width':w});}
function label(name,str,x,y,size,o){
  o=o||{};
  const parts=['translate('+x+','+y+')'];
  if(o.rot)parts.push('rotate('+o.rot+')');
  if(o.sx)parts.push('scale('+o.sx+',1)');
  const el=mk('text',name,{transform:parts.join(' '),y:size*.36,'font-size':size,'text-anchor':o.anchor||'middle'});
  if(o.color)el.setAttribute('style','fill:'+o.color);
  if(o.bold)el.setAttribute('class','b');
  el.textContent=str;
  return el;
}
function box(name,x,y,w,h,col,sw){return mk('rect',name,{x,y,width:w,height:h,fill:'none',stroke:col||'#555','stroke-width':sw||1.3});}

/* ---------- Panel A ---------- */
(function(){
  const x=scale(0,30,64.5,278.4), y=scale(0,.8,274,107);
  scaleCutoff.forEach(v=>line('scale-cutoff-line',63.3,y(v),285.7,y(v),'#e25c5c',1.6));
  box('scale-plot-frame',63.3,73.7,222.4,243.6);
  powerTicks.forEach(t=>{
    line('scale-x-tick',x(t),318,x(t),326,'#555',1.2);
    label('scale-x-tick-label',String(t),x(t),342,14.5,{sx:.84});
  });
  scaleTicks.forEach((t,i)=>{
    line('scale-y-tick',54,y(t),63.3,y(t),'#555',1.2);
    label('scale-y-tick-label',scaleTickLabels[i],39.6,y(t),14,{rot:-90,sx:.88});
  });
  powers.forEach((p,i)=>label('scale-power-label',String(p),x(p),y(scaleFit[i]),14.5,{sx:.8,color:'#d42a2a'}));
})();
(function(){
  const x=scale(0,30,387,600.4), y=scale(0,8000,309,108.3);
  box('connectivity-plot-frame',385.7,73.7,222.3,243.6);
  powerTicks.forEach(t=>{
    line('connectivity-x-tick',x(t),318,x(t),326,'#555',1.2);
    label('connectivity-x-tick-label',String(t),x(t),342,14.5,{sx:.84});
  });
  kTicks.forEach(t=>{
    line('connectivity-y-tick',377.5,y(t),385.7,y(t),'#555',1.2);
    label('connectivity-y-tick-label',String(t),362,y(t),14,{rot:-90,sx:.88});
  });
  powers.forEach((p,i)=>label('connectivity-power-label',String(p),x(p),y(meanK[i]),14.5,{sx:.8,color:'#d42a2a'}));
})();

/* ---------- Panel B ---------- */
(function(){
  const leafX=scale(0,160,755.5,1263.3), y=scale(0,1,314.3,66);
  const step=(1263.3-755.5)/41;
  for(let i=1;i<=40;i++){
    const gx=755.5+i*step-2.6;
    mk('line','dendrogram-guide-line',{x1:gx,y1:92,x2:gx,y2:321.7,stroke:'#c8c8c8','stroke-width':1,'stroke-dasharray':'1.2 2.2'});
  }
  line('height-axis-line',735.1,y(0),735.1,y(1),'#555',1.2);
  heightTicks.forEach((t,i)=>{
    line('height-tick',727,y(t),735.1,y(t),'#555',1.2);
    label('height-tick-label',heightTickLabels[i],711.4,y(t),13.5,{rot:-90,sx:.95});
  });
  let d='', hairs='';
  dendroTop.forEach((h,i)=>{
    const px=leafX(i+.5), tip=dendroTip[i];
    const raw=dendroTip[i+1]===undefined?tip:dendroTip[i+1];
    const nxt=Math.abs(raw-tip)>.1?tip:raw;
    const solid=Math.max(tip,nxt)-.004;
    d+='M'+px.toFixed(1)+' '+y(h).toFixed(1)+'V'+y(Math.min(solid,h)).toFixed(1);
    hairs+='M'+(px-1.1).toFixed(1)+' '+y(h).toFixed(1)+'V'+y(tip-.014).toFixed(1);
    hairs+='M'+(px+.6).toFixed(1)+' '+y(h).toFixed(1)+'V'+y(tip+.004).toFixed(1);
    hairs+='M'+(px+1.3).toFixed(1)+' '+y(h).toFixed(1)+'V'+y((tip+nxt)/2-.008).toFixed(1);
  });
  mk('path','dendrogram-leaf-mass',{d:d,stroke:'#000','stroke-width':3.3,fill:'none'});
  mk('path','dendrogram-leaf-hairs',{d:hairs,stroke:'#111','stroke-width':1,fill:'none'});
  let s='';
  spikeLeaf.forEach((p,i)=>{s+='M'+leafX(p).toFixed(1)+' '+y(.95).toFixed(1)+'V'+y(spikeHeight[i]).toFixed(1);});
  mk('path','dendrogram-long-branches',{d:s,stroke:'#222','stroke-width':1.2,fill:'none'});
  descentLeaf.forEach((p,i)=>line('dendrogram-main-descent',leafX(p),y(descentFrom[i]),leafX(p),y(descentTo[i]),'#000',2));
  mergeFromLeaf.forEach((p,i)=>line('dendrogram-merge-line',leafX(p),y(mergeFromH[i]),leafX(mergeToLeaf[i]),y(mergeToH[i]),'#222',1));
  line('dendrogram-right-edge',leafX(160),y(.975),leafX(160),y(.94),'#222',1);

  const total=barRunLeaves.reduce((a,b)=>a+b,0);
  const barX=scale(0,total,755.5,1263.3);
  let acc=0;
  barRunLeaves.forEach((n,i)=>{
    mk('rect','module-color-segment',{x:barX(acc).toFixed(2),y:324,width:(barX(acc+n)-barX(acc)+.3).toFixed(2),height:56.7,fill:barKeyColors[barRunKeys[i]]||'#5c9fd6'});
    acc+=n;
  });
  line('module-bar-top-border',755.5,324,1263.3,324,'#666',1.4);
  line('module-bar-bottom-border',755.5,380.7,1263.3,380.7,'#666',1.4);
})();

/* ---------- Panel C ---------- */
function corColor(v){
  const q=Math.round(v/.05)*.05;
  if(q>=0)return 'rgb('+Math.round(255-38*q)+','+Math.round(255-212*q)+','+Math.round(255-255*q)+')';
  const a=-q;
  return 'rgb('+Math.round(255-202*a)+','+Math.round(255-117*a)+','+Math.round(255-8*a)+')';
}
(function(){
  const top=55, rowH=(675-55)/moduleNames.length;
  const colX=[1387.3,1543.7,1701.7], colC=[1465.3,1622.7];
  moduleNames.forEach((nm,i)=>{
    const ry=top+i*rowH, c=ry+rowH/2;
    mk('rect','module-swatch',{x:1361.7,y:ry,width:22,height:rowH+.2,fill:moduleSwatches[i]});
    const lab=mk('text','module-row-label',{x:1356,y:c+5+1.4*(1-i/16),'font-size':14.8,'text-anchor':'end',class:'b'});
    lab.textContent=nm;
    [[cafCor,cafCorLabels,cafP],[stromalCor,stromalCorLabels,stromalP]].forEach((src,j)=>{
      mk('rect','heatmap-cell',{x:colX[j],y:ry,width:colX[j+1]-colX[j]+.2,height:rowH+.2,fill:corColor(src[0][i])});
      label('cell-correlation',src[1][i],colC[j],c-3.3,6.4,{color:'#222'});
      label('cell-p-value',src[2][i],colC[j],c+4.4,6.4,{color:'#222'});
    });
  });
  box('heatmap-frame',1387.3,56,314.4,619,'#5a5a5a',1.3);

  const cy=scale(1,-1,92.7,637.7), n=50;
  for(let k=0;k<n;k++){
    const v0=1-k*2/n, v1=1-(k+1)*2/n;
    mk('rect','colorbar-step',{x:1708.3,y:cy(v0).toFixed(2),width:10.7,height:(cy(v1)-cy(v0)+.3).toFixed(2),fill:corColor((v0+v1)/2)});
  }
  box('colorbar-frame',1708.3,92.7,10.7,545,'#555',1.2);
  colorbarTicks.forEach((t,i)=>{
    line('colorbar-tick',1719,cy(t),1725.7,cy(t),'#555',1.2);
    label('colorbar-tick-label',colorbarTickLabels[i],1731.7,cy(t)+1,14.8,{anchor:'start',bold:true});
  });
})();

/* ---------- Panel D ---------- */
function scatter(prefix,o){
  const x=scale(o.xd[0],o.xd[1],o.xr[0],o.xr[1]), y=scale(o.yd[0],o.yd[1],o.yr[0],o.yr[1]);
  const n=Math.min(o.xs.length,o.ys.length);
  for(let i=0;i<n;i++){
    mk('circle',prefix+'-point',{cx:x(o.xs[i]).toFixed(1),cy:y(o.ys[i]).toFixed(1),r:3.1,fill:'none',stroke:o.color,'stroke-width':1.15});
  }
  line(prefix+'-membership-cutoff',x(.5),o.bt,x(.5),o.bb,o.cutV,1.2);
  line(prefix+'-significance-cutoff',o.bl,y(.02),o.br,y(.02),o.cutH,o.cutHw);
  line(prefix+'-trend-line',x(o.xl[0]),y(o.tr[0]),x(o.xl[1]),y(o.tr[1]),'#333',1.3);
  box(prefix+'-plot-frame',o.bl,o.bt,o.br-o.bl,o.bb-o.bt,'#5a5a5a',1.3);
  o.xt.forEach(t=>{
    line(prefix+'-x-tick',x(t),o.bb,x(t),o.bb+8,'#555',1.2);
    label(prefix+'-x-tick-label',t.toFixed(1),x(t),o.bb+24,15,{});
  });
  o.yt.forEach((t,i)=>{
    line(prefix+'-y-tick',o.bl-8,y(t),o.bl,y(t),'#555',1.2);
    if(i%o.yEvery===0)label(prefix+'-y-tick-label',t.toFixed(2),o.ylx,y(t),15,{rot:-90,sx:.95});
  });
}
scatter('brown',{xs:brownX,ys:brownY,xd:[.2,.8],xr:[127.3,508.2],yd:[0,.12],yr:[715.7,496.7],bl:75,br:616.3,bt:472,bb:725,color:'#8b2c2c',cutV:'#d9534f',cutH:'#ecb6b6',cutHw:1,xl:brownXLim,tr:brownTrend,xt:brownXTicks,yt:brownYTicks,yEvery:2,ylx:50});
scatter('tan',{xs:tanX,ys:tanY,xd:[.4,.9],xr:[752.9,1230],yd:[0,.08],yr:[716,476.3],bl:732,br:1273.7,bt:472,bb:725,color:'#cbb08a',cutV:'#e03a3a',cutH:'#e03a3a',cutHw:1.2,xl:tanXLim,tr:tanTrend,xt:tanXTicks,yt:tanYTicks,yEvery:1,ylx:707});
scatter('yellow',{xs:yellowX,ys:yellowY,xd:[.4,.9],xr:[152.2,569],yd:[0,.08],yr:[1099.7,874.7],bl:75,br:616.3,bt:856,bb:1109,color:'#ffff22',cutV:'#e86060',cutH:'#e04a4a',cutHw:1.5,xl:yellowXLim,tr:yellowTrend,xt:yellowXTicks,yt:yellowYTicks,yEvery:1,ylx:50});
</script>
</body>
</html>
